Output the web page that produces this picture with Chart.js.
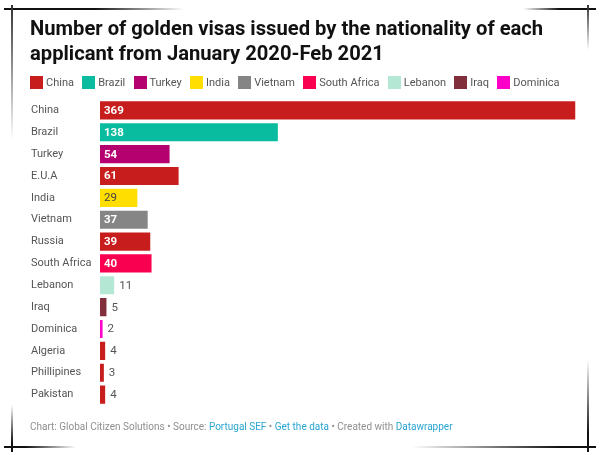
<!DOCTYPE html>
<html>
<head>
<meta charset="utf-8">
<script src="https://cdn.jsdelivr.net/npm/chart.js@4"></script>
<style>
  html, body { margin: 0; padding: 0; background: #fff; }
  body { width: 600px; height: 455px; position: relative; overflow: hidden; font-family: Roboto, sans-serif; }
  #myChart { position: absolute; left: 0; top: 0; }
  #title { position: absolute; left: 30px; top: 16px; width: 540px; margin: 0; font-size: 20.2px; line-height: 25px; font-weight: 700; color: #111; }
  #legend { position: absolute; left: 30px; top: 76px; height: 14px; white-space: nowrap; font-size: 11px; line-height: 14px; color: #555; }
  #legend span { position: absolute; top: 0; }
  #legend i { position: absolute; top: 0; width: 13px; height: 13px; }
  #footer { position: absolute; left: 30px; top: 420px; font-size: 10px; line-height: 13px; color: #8f8f8f; white-space: nowrap; }
  #footer a { color: #29a5d0; text-decoration: none; }
  .frame { position: absolute; }
</style>
</head>
<body>
<canvas id="myChart" width="600" height="455"></canvas>
<h1 id="title">Number of golden visas issued by the nationality of each applicant from January 2020-Feb 2021</h1>
<div id="legend"></div>
<div id="footer">Chart: Global Citizen Solutions • Source: <a>Portugal SEF</a> • <a>Get the data</a> • Created with <a>Datawrapper</a></div>

<div class="frame" style="left:4px;top:8px;width:180px;height:2px;background:linear-gradient(to right,#111 50%,rgba(0,0,0,0))"></div>
<div class="frame" style="left:523px;top:8px;width:73px;height:2px;background:linear-gradient(to left,#111 50%,rgba(0,0,0,0))"></div>
<div class="frame" style="left:11px;top:5px;width:2px;height:135px;background:linear-gradient(to bottom,#333,rgba(0,0,0,0))"></div>
<div class="frame" style="left:587px;top:5px;width:2px;height:45px;background:linear-gradient(to bottom,#333,rgba(0,0,0,0))"></div>
<div class="frame" style="left:4px;top:446px;width:72px;height:2px;background:linear-gradient(to right,#111 30%,rgba(0,0,0,0))"></div>
<div class="frame" style="left:412px;top:446px;width:184px;height:2px;background:linear-gradient(to left,#111 20%,rgba(0,0,0,0))"></div>
<div class="frame" style="left:11px;top:405px;width:2px;height:47px;background:linear-gradient(to top,#111 20%,rgba(0,0,0,0))"></div>
<div class="frame" style="left:587px;top:360px;width:2px;height:92px;background:linear-gradient(to top,#111 20%,rgba(0,0,0,0))"></div>

<script>
// 各行数据
var categories = ['China', 'Brazil', 'Turkey', 'E.U.A', 'India', 'Vietnam', 'Russia', 'South Africa', 'Lebanon', 'Iraq', 'Dominica', 'Algeria', 'Phillipines', 'Pakistan']
var visas = [369, 138, 54, 61, 29, 37, 39, 40, 11, 5, 2, 4, 3, 4]
var barColors = ['#c71e1d', '#09bb9f', '#b5006f', '#c71e1d', '#ffde00', '#858585', '#c71e1d', '#fa0050', '#b5e8d4', '#812f3c', '#ff00c8', '#c71e1d', '#c71e1d', '#c71e1d']

// legend
var legendNames = ['China', 'Brazil', 'Turkey', 'India', 'Vietnam', 'South Africa', 'Lebanon', 'Iraq', 'Dominica']
var legendColors = ['#c71e1d', '#09bb9f', '#b5006f', '#ffde00', '#858585', '#fa0050', '#b5e8d4', '#812f3c', '#ff00c8']

var legend = document.getElementById('legend')
var legendX = 0
legendNames.forEach(function (name, i) {
    var box = document.createElement('i')
    box.style.left = legendX + 'px'
    box.style.background = legendColors[i]
    legend.appendChild(box)
    var text = document.createElement('span')
    text.textContent = name
    text.style.left = (legendX + 16) + 'px'
    legend.appendChild(text)
    legendX += 16 + text.getBoundingClientRect().width + 8.2
})

// 数值标签
var valueLabels = {
    id: 'valueLabels',
    afterDatasetsDraw: function (chart) {
        var ctx = chart.ctx
        var bars = chart.getDatasetMeta(0).data
        ctx.save()
        ctx.textBaseline = 'middle'
        bars.forEach(function (bar, i) {
            var value = visas[i]
            var inside = value >= 29
            var dark = value === 29
            ctx.font = (inside && !dark ? '700 ' : '400 ') + '11.5px Roboto'
            ctx.fillStyle = dark ? '#444' : (inside ? '#fff' : '#555')
            ctx.fillText(String(value), inside ? chart.scales.x.left + 4 : bar.x + 5, bar.y + 0.5)
        })
        ctx.restore()
    }
}

new Chart(document.getElementById('myChart').getContext('2d'), {
    type: 'bar',
    data: {
        labels: categories,
        datasets: [{ data: visas, backgroundColor: barColors, barPercentage: 0.83, categoryPercentage: 1 }]
    },
    plugins: [valueLabels],
    options: {
        indexAxis: 'y',
        responsive: false,
        animation: false,
        layout: { padding: { left: 31, right: 24.5, top: 99.5, bottom: 49.5 } },
        plugins: { legend: { display: false }, tooltip: { enabled: false } },
        scales: {
            x: { display: false, min: 0, max: 369 },
            y: {
                afterFit: function (axis) { axis.width = 69 },
                grid: { display: false },
                border: { display: false },
                ticks: { crossAlign: 'far', padding: 0, color: '#555', font: { family: 'Roboto', size: 11 } }
            }
        }
    }
})
</script>
</body>
</html>
